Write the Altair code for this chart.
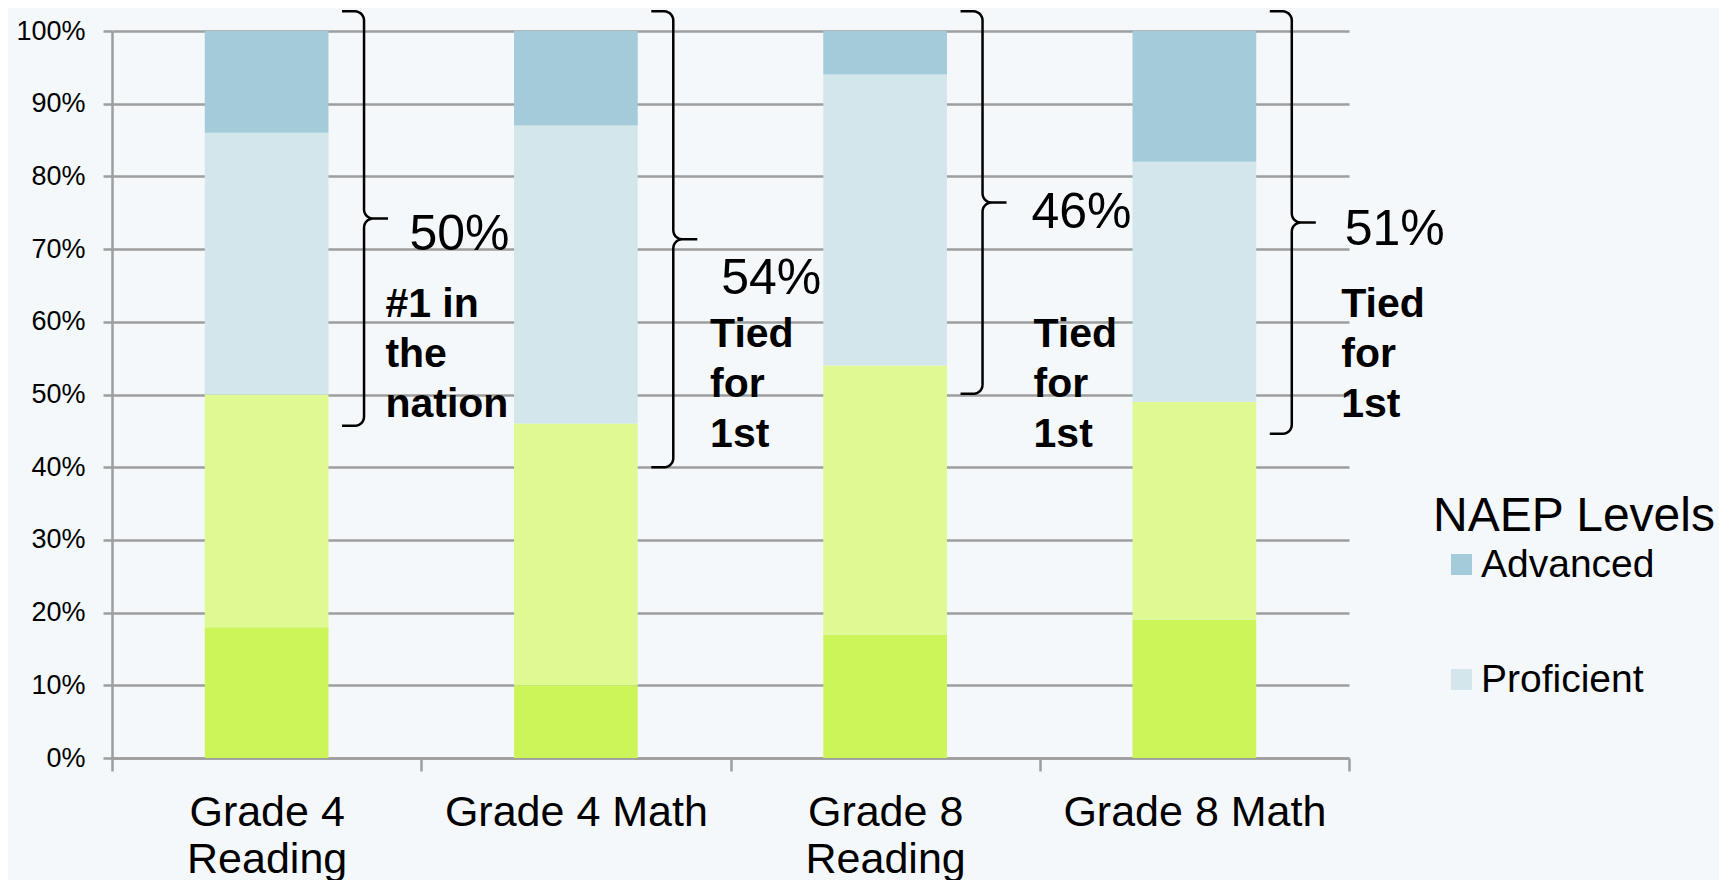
import altair as alt
import pandas as pd
import numpy as np

# ---- data (percent of students by NAEP level) ----
categories = ["Grade 4 Reading", "Grade 4 Math", "Grade 8 Reading", "Grade 8 Math"]
levels = ["Below Basic", "Basic", "Proficient", "Advanced"]
below_basic = [18, 10, 17, 19]
basic = [32, 36, 37, 30]
proficient = [36, 41, 40, 33]
advanced = [14, 13, 6, 18]
level_colors = ["#CCF55A", "#DFF993", "#D2E6EC", "#A3CBDA"]

# ---- annotations ----
rank_labels = ["#1 in\nthe\nnation", "Tied\nfor\n1st", "Tied\nfor\n1st", "Tied\nfor\n1st"]
brace_top = [102.7, 102.7, 102.7, 102.7]
brace_bottom = [45.7, 40.0, 50.1, 44.6]
share_x = [0.962, 1.970, 2.973, 3.986]
share_y = [69.9, 63.8, 72.9, 70.6]
rank_x = [0.884, 1.934, 2.980, 3.975]
rank_y = [60.7, 56.5, 56.5, 60.7]

W, H = 1237, 727
FONT = "Liberation Sans"

rows = []
for i, c in enumerate(categories):
    for k, (lvl, vals) in enumerate(zip(levels, [below_basic, basic, proficient, advanced])):
        rows.append({"category": c, "level": lvl, "value": vals[i], "order": k})
df = pd.DataFrame(rows)

# brace path geometry (pixel shape, positioned through the scales)
def brace(idx, top, bottom, hook=22, tip=24, r=9, n=8):
    X = (idx + 0.815) * W / 4
    Yt = (100 - top) * H / 100
    Yb = (100 - bottom) * H / 100
    Ym = (Yt + Yb) / 2
    pts = [(X - hook, Yt)]
    def arc(cx, cy, a0, a1):
        for t in np.linspace(np.radians(a0), np.radians(a1), n):
            pts.append((cx + r * np.cos(t), cy + r * np.sin(t)))
    arc(X - r, Yt + r, -90, 0)
    arc(X + r, Ym - r, 180, 90)
    pts.append((X + tip, Ym))
    arc(X + r, Ym + r, 270, 180)
    arc(X - r, Yb - r, 0, 90)
    pts.append((X - hook, Yb))
    return [{"b": idx, "o": j, "bx": px * 4 / W, "by": 100 - py * 100 / H} for j, (px, py) in enumerate(pts)]

brace_rows = []
for i in range(len(categories)):
    brace_rows += brace(i, brace_top[i], brace_bottom[i])
brace_df = pd.DataFrame(brace_rows)

share_df = pd.DataFrame({
    "x": share_x, "y": share_y,
    "t": [f"{p + a}%" for p, a in zip(proficient, advanced)],
})
rank_df = pd.DataFrame({"x": rank_x, "y": rank_y, "t": rank_labels})

xq = alt.Scale(domain=[0, 4], nice=False, zero=False)
yscale = alt.Scale(domain=[0, 100], nice=False)

bars = alt.Chart(df).mark_bar(stroke=None, width=alt.RelativeBandSize(0.4)).encode(
    x=alt.X("category:N", sort=categories,
            scale=alt.Scale(paddingInner=0, paddingOuter=0),
            axis=alt.Axis(title=None, labelAngle=0, tickBand="extent", tickSize=13,
                          labelFontSize=43, labelPadding=20, labelLineHeight=47,
                          labelLimit=0,
                          labelExpr="split(replace(datum.label, ' Reading', '|Reading'), '|')",
                          grid=False)),
    y=alt.Y("value:Q", stack="zero", scale=yscale,
            axis=alt.Axis(title=None, values=list(range(0, 101, 10)),
                          labelExpr="datum.value + '%'", tickSize=9, labelFontSize=27,
                          labelPadding=18, grid=True)),
    color=alt.Color("level:N", scale=alt.Scale(domain=levels, range=level_colors),
                    legend=alt.Legend(title="NAEP Levels", values=["Advanced", "Proficient"],
                                      orient="none", legendX=1321, legendY=462,
                                      symbolType="square", symbolSize=441, symbolStrokeWidth=0,
                                      symbolOffset=9, labelFontSize=39, labelOffset=0,
                                      labelLimit=0, titleLimit=0,
                                      titleFontSize=48, titleFontWeight="normal",
                                      titlePadding=4, rowPadding=75,
                                      titleColor="#000", labelColor="#000")),
    order=alt.Order("order:Q", sort="ascending"),
)

braces = alt.Chart(brace_df).mark_line(color="#000", strokeWidth=2.5, clip=False).encode(
    x=alt.X("bx:Q", scale=xq, axis=None),
    y=alt.Y("by:Q", scale=yscale),
    detail="b:N",
    order="o:Q",
)

share_text = alt.Chart(share_df).mark_text(align="left", baseline="alphabetic", fontSize=50,
                                           color="#000", font=FONT).encode(
    x=alt.X("x:Q", scale=xq, axis=None),
    y=alt.Y("y:Q", scale=yscale),
    text="t:N",
)

rank_text = alt.Chart(rank_df).mark_text(align="left", baseline="alphabetic", fontSize=41,
                                         fontWeight="bold", lineBreak="\n", lineHeight=50,
                                         color="#000", font=FONT).encode(
    x=alt.X("x:Q", scale=xq, axis=None),
    y=alt.Y("y:Q", scale=yscale),
    text="t:N",
)

chart = alt.layer(bars, braces, share_text, rank_text).resolve_scale(
    x="independent"
).properties(
    width=W, height=H,
    autosize=alt.AutoSizeParams(type="none"),
    padding={"left": 104, "top": 23, "right": 370, "bottom": 122},
    background="#F4F8FA",
).configure_view(stroke=None).configure_axis(
    labelFont=FONT, labelColor="#000", domainColor="#9E9E9E", domainWidth=2.5,
    tickColor="#9E9E9E", tickWidth=2.5, gridColor="#9E9E9E", gridWidth=2.5,
    gridOpacity=1,
).configure_legend(labelFont=FONT, titleFont=FONT).configure_text(font=FONT)

chart.save("out.html", embed_options={"renderer": "svg", "actions": False})
